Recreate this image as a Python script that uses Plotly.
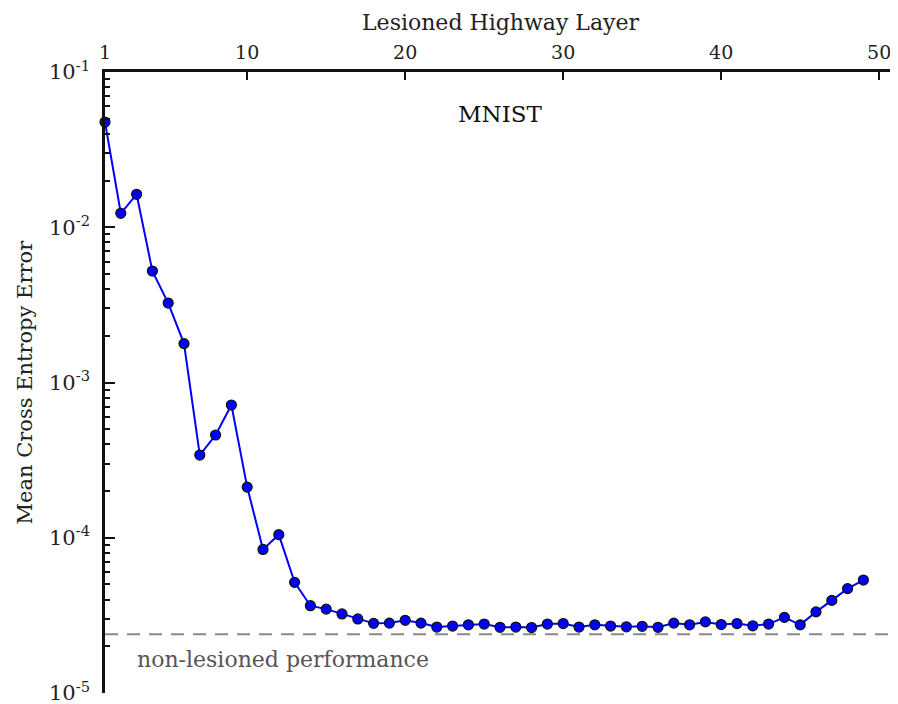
import plotly.graph_objects as go

layers = list(range(1, 50))
error = [4.76e-2, 1.23e-2, 1.63e-2, 5.22e-3, 3.25e-3, 1.78e-3, 3.41e-4, 4.59e-4, 7.16e-4, 2.12e-4,
         8.41e-5, 1.047e-4, 5.16e-5, 3.65e-5, 3.47e-5, 3.23e-5, 3.0e-5, 2.81e-5, 2.82e-5, 2.94e-5,
         2.82e-5, 2.66e-5, 2.70e-5, 2.75e-5, 2.78e-5, 2.65e-5, 2.66e-5, 2.64e-5, 2.78e-5, 2.80e-5,
         2.66e-5, 2.75e-5, 2.70e-5, 2.67e-5, 2.69e-5, 2.65e-5, 2.82e-5, 2.75e-5, 2.87e-5, 2.76e-5,
         2.80e-5, 2.71e-5, 2.78e-5, 3.07e-5, 2.75e-5, 3.33e-5, 3.95e-5, 4.70e-5, 5.34e-5]
baseline = 2.39e-5
x_range = [1, 51]
x_ticks = [1, 10, 20, 30, 40, 50]
y_ticks = [1e-1, 1e-2, 1e-3, 1e-4, 1e-5]
y_ticktext = ["10<sup>-1</sup>", "10<sup>-2</sup>", "10<sup>-3</sup>", "10<sup>-4</sup>", "10<sup>-5</sup>"]

FONT = "DejaVu Serif"
fig = go.Figure()
fig.add_trace(go.Scatter(x=x_range, y=[baseline, baseline], mode="lines",
                         line=dict(color="#8a8a8a", width=2, dash="13px,9px"),
                         hoverinfo="skip", showlegend=False))
fig.add_trace(go.Scatter(x=layers, y=error, mode="lines+markers",
                         line=dict(color="#0000ff", width=2),
                         marker=dict(color="#0000ff", size=10, line=dict(color="#111111", width=1.2)),
                         showlegend=False, cliponaxis=False))

fig.update_layout(
    width=890, height=696,
    margin=dict(l=97, r=3, t=64, b=11),
    paper_bgcolor="white", plot_bgcolor="white",
    font=dict(family=FONT, size=19, color="#222222"),
    xaxis=dict(side="top", range=x_range, tickvals=x_ticks, ticks="inside", ticklen=8, tickwidth=1.5,
               tickcolor="#111111", showline=True, linecolor="#111111", linewidth=2.5, showgrid=False,
               zeroline=False, automargin=False, tickfont=dict(size=19), ticklabelstandoff=3),
    yaxis=dict(type="log", range=[-5, -1], tickvals=y_ticks, ticktext=y_ticktext, ticks="inside",
               ticklen=10, tickwidth=1.5, tickcolor="#111111", showline=True, linecolor="#111111",
               linewidth=2.5, showgrid=False, zeroline=False, automargin=False,
               minor=dict(dtick="D1", ticks="inside", ticklen=5, tickwidth=1.5, tickcolor="#111111",
                          showgrid=False),
               tickfont=dict(size=21), ticklabelstandoff=8, ticklabeloverflow="allow"),
    annotations=[
        dict(x=0.5, y=1, xref="paper", yref="paper", yshift=50, yanchor="middle",
             text="Lesioned Highway Layer", showarrow=False, font=dict(size=22, color="#222222")),
        dict(x=0, y=0.5, xref="paper", yref="paper", xshift=-81, xanchor="center", yanchor="middle",
             text="Mean Cross Entropy Error", textangle=-90, showarrow=False,
             font=dict(size=21, color="#222222")),
        dict(x=26, y=-1.27, xref="x", yref="y", text="MNIST", showarrow=False,
             font=dict(size=23, color="#111111")),
        dict(x=2.9, y=-4.787, xref="x", yref="y", text="non-lesioned performance", showarrow=False,
             xanchor="left", font=dict(size=22, color="#555555")),
    ],
)
fig.write_html("out.html")
